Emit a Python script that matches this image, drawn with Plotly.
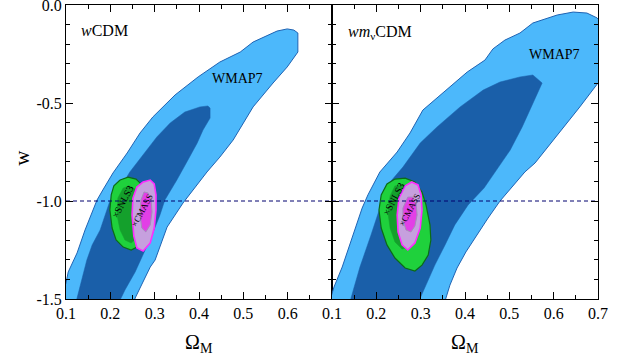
import plotly.graph_objects as go

# ---- confidence contours in the (Omega_M, w) plane: lists of (Omega_M, w) vertices ----
# wCDM panel
WCDM_WMAP7_95 = [
    (0.080, -1.550), (0.100, -1.418), (0.105, -1.362), (0.125, -1.265), (0.143, -1.148),
    (0.161, -1.046), (0.170, -0.995), (0.183, -0.944), (0.206, -0.857), (0.238, -0.755),
    (0.267, -0.653), (0.296, -0.571), (0.335, -0.485), (0.346, -0.459), (0.398, -0.367),
    (0.447, -0.291), (0.493, -0.240), (0.522, -0.189), (0.576, -0.133), (0.599, -0.122),
    (0.614, -0.128), (0.623, -0.143), (0.623, -0.240), (0.599, -0.316), (0.567, -0.398),
    (0.522, -0.520), (0.477, -0.689), (0.447, -0.776), (0.418, -0.852), (0.387, -0.944),
    (0.364, -1.010), (0.328, -1.133), (0.301, -1.301), (0.290, -1.337), (0.256, -1.495),
    (0.250, -1.550),
]
WCDM_WMAP7_68 = [
    (0.118, -1.556), (0.125, -1.495), (0.134, -1.403), (0.147, -1.301), (0.159, -1.224),
    (0.177, -1.148), (0.199, -1.000), (0.222, -0.934), (0.244, -0.852), (0.278, -0.755),
    (0.305, -0.673), (0.335, -0.602), (0.368, -0.546), (0.402, -0.520), (0.420, -0.515),
    (0.425, -0.526), (0.425, -0.577), (0.409, -0.638), (0.396, -0.704), (0.375, -0.791),
    (0.350, -0.893), (0.323, -0.995), (0.312, -1.071), (0.294, -1.173), (0.274, -1.276),
    (0.256, -1.362), (0.233, -1.454), (0.222, -1.505), (0.215, -1.556),
]
WCDM_SNLS3_95 = [
    (0.222, -0.893), (0.240, -0.878), (0.258, -0.888), (0.269, -0.913), (0.274, -0.969),
    (0.274, -1.071), (0.269, -1.173), (0.260, -1.235), (0.247, -1.250), (0.229, -1.235),
    (0.213, -1.199), (0.204, -1.138), (0.199, -1.046), (0.202, -0.969), (0.208, -0.923),
]
WCDM_SNLS3_68 = [
    (0.229, -0.934), (0.244, -0.923), (0.260, -0.944), (0.267, -1.020), (0.267, -1.122),
    (0.260, -1.189), (0.247, -1.214), (0.233, -1.199), (0.222, -1.148), (0.215, -1.071),
    (0.217, -0.985),
]
WCDM_CMASS_95 = [
    (0.274, -0.903), (0.290, -0.893), (0.299, -0.913), (0.303, -0.969), (0.303, -1.046),
    (0.299, -1.138), (0.290, -1.214), (0.274, -1.255), (0.260, -1.240), (0.253, -1.179),
    (0.249, -1.071), (0.251, -0.985), (0.260, -0.929),
]
WCDM_CMASS_68 = [
    (0.276, -0.954), (0.285, -0.959), (0.292, -0.995), (0.294, -1.056), (0.290, -1.122),
    (0.280, -1.158), (0.271, -1.138), (0.267, -1.071), (0.269, -0.995),
]

# wm_nu CDM panel
WMNU_WMAP7_95 = [
    (0.090, -1.550), (0.1045, -1.439), (0.123, -1.337), (0.147, -1.173), (0.168, -1.036),
    (0.181, -0.969), (0.208, -0.852), (0.247, -0.750), (0.276, -0.653), (0.305, -0.536),
    (0.344, -0.459), (0.382, -0.388), (0.405, -0.342), (0.445, -0.281), (0.463, -0.224),
    (0.490, -0.179), (0.524, -0.143), (0.553, -0.092), (0.608, -0.051), (0.644, -0.036),
    (0.675, -0.041), (0.698, -0.066), (0.718, -0.117), (0.718, -0.357), (0.700, -0.398),
    (0.659, -0.520), (0.630, -0.602), (0.599, -0.689), (0.558, -0.806), (0.535, -0.852),
    (0.506, -0.929), (0.479, -1.000), (0.452, -1.087), (0.427, -1.173), (0.402, -1.260),
    (0.382, -1.342), (0.366, -1.429), (0.357, -1.495), (0.350, -1.550),
]
WMNU_WMAP7_68 = [
    (0.138, -1.550), (0.143, -1.495), (0.150, -1.439), (0.163, -1.337), (0.188, -1.173),
    (0.208, -1.036), (0.222, -0.969), (0.235, -0.893), (0.260, -0.827), (0.299, -0.704),
    (0.337, -0.622), (0.389, -0.520), (0.441, -0.434), (0.479, -0.393), (0.524, -0.367),
    (0.553, -0.357), (0.574, -0.398), (0.551, -0.510), (0.529, -0.622), (0.502, -0.740),
    (0.472, -0.842), (0.443, -0.934), (0.407, -1.020), (0.377, -1.122), (0.355, -1.224),
    (0.332, -1.327), (0.312, -1.429), (0.299, -1.495), (0.292, -1.550),
]
WMNU_SNLS3_95 = [
    (0.242, -0.888), (0.265, -0.883), (0.287, -0.903), (0.303, -0.954), (0.312, -1.020),
    (0.321, -1.122), (0.323, -1.199), (0.317, -1.276), (0.303, -1.327), (0.287, -1.357),
    (0.265, -1.342), (0.242, -1.291), (0.224, -1.224), (0.211, -1.138), (0.206, -1.046),
    (0.211, -0.969), (0.224, -0.913),
]
WMNU_SNLS3_68 = [
    (0.242, -0.923), (0.265, -0.918), (0.283, -0.944), (0.294, -1.020), (0.296, -1.107),
    (0.290, -1.189), (0.276, -1.235), (0.258, -1.245), (0.242, -1.209), (0.231, -1.138),
    (0.226, -1.056), (0.231, -0.974),
]
WMNU_CMASS_95 = [
    (0.265, -0.923), (0.280, -0.903), (0.294, -0.918), (0.301, -0.969), (0.303, -1.046),
    (0.299, -1.138), (0.287, -1.214), (0.271, -1.250), (0.258, -1.224), (0.249, -1.158),
    (0.247, -1.071), (0.251, -0.985),
]
WMNU_CMASS_68 = [
    (0.271, -0.980), (0.283, -0.980), (0.290, -1.020), (0.292, -1.071), (0.287, -1.128),
    (0.278, -1.158), (0.267, -1.148), (0.260, -1.097), (0.260, -1.036),
]

W_LAMBDA = -1.0          # cosmological-constant reference line
OM_RANGE = [0.1, 0.7]
W_RANGE = [-1.5, 0.0]
X_TICKS_LEFT = [0.1, 0.2, 0.3, 0.4, 0.5, 0.6]
X_TICKS_RIGHT = [0.1, 0.2, 0.3, 0.4, 0.5, 0.6, 0.7]
Y_TICKS = [0.0, -0.5, -1.0, -1.5]
Y_TICK_TEXT = ["0.0", "-0.5", "-1.0", "-1.5"]

SERIF = "Liberation Serif, Times New Roman, serif"

# fill / edge colours per data set
STYLE = {
    "wmap95": dict(fill="#4cb8fb", line="#1f63b3", width=1.0),
    "wmap68": dict(fill="#1a5fa9", line="#1a5fa9", width=0.5),
    "snls95": dict(fill="#1fd13c", line="#0c6b16", width=1.2),
    "snls68": dict(fill="#14a02c", line="#14a02c", width=0.5),
    "cmass95": dict(fill="#c6a0de", line="#ff2cff", width=1.6),
    "cmass68": dict(fill="#e23fe6", line="#a58cba", width=1.0),
}

panels = [
    ("x", "y", [
        (WCDM_WMAP7_95, "wmap95"), (WCDM_WMAP7_68, "wmap68"),
        (WCDM_SNLS3_95, "snls95"), (WCDM_SNLS3_68, "snls68"),
        (WCDM_CMASS_95, "cmass95"), (WCDM_CMASS_68, "cmass68"),
    ]),
    ("x2", "y2", [
        (WMNU_WMAP7_95, "wmap95"), (WMNU_WMAP7_68, "wmap68"),
        (WMNU_SNLS3_95, "snls95"), (WMNU_SNLS3_68, "snls68"),
        (WMNU_CMASS_95, "cmass95"), (WMNU_CMASS_68, "cmass68"),
    ]),
]

fig = go.Figure()
for xa, ya, contours in panels:
    for pts, key in contours:
        st = STYLE[key]
        fig.add_trace(go.Scatter(
            x=[p[0] for p in pts] + [pts[0][0]],
            y=[p[1] for p in pts] + [pts[0][1]],
            mode="lines", fill="toself", fillcolor=st["fill"],
            line=dict(color=st["line"], width=st["width"]),
            xaxis=xa, yaxis=ya, hoverinfo="skip", showlegend=False,
        ))
    # w = -1 reference line
    fig.add_trace(go.Scatter(
        x=OM_RANGE, y=[W_LAMBDA, W_LAMBDA], mode="lines",
        line=dict(color="#00006e", width=1, dash="4px,3px"),
        xaxis=xa, yaxis=ya, hoverinfo="skip", showlegend=False,
    ))

axis_common = dict(
    showline=True, linecolor="black", linewidth=1, mirror="ticks",
    ticks="inside", ticklen=7, tickwidth=1, tickcolor="black",
    showgrid=False, zeroline=False, ticklabeloverflow="allow", automargin=False,
    tickfont=dict(family=SERIF, size=16, color="black"),
)
x_minor = dict(ticks="inside", ticklen=4, tickcolor="black",
               tickmode="linear", tick0=0.05, dtick=0.1)
y_minor = dict(ticks="inside", ticklen=4, tickcolor="black",
               tickmode="linear", tick0=0.0, dtick=0.1)

fig.update_layout(
    width=621, height=362,
    margin=dict(l=66, r=23, t=5, b=63, autoexpand=False),
    paper_bgcolor="white", plot_bgcolor="white",
    xaxis=dict(domain=[0, 0.5], range=OM_RANGE, tickmode="array",
               tickvals=X_TICKS_LEFT, ticktext=["%.1f" % v for v in X_TICKS_LEFT],
               minor=x_minor, anchor="y", **axis_common),
    xaxis2=dict(domain=[0.5, 1], range=OM_RANGE, tickmode="array",
                tickvals=X_TICKS_RIGHT, ticktext=["%.1f" % v for v in X_TICKS_RIGHT],
                minor=x_minor, anchor="y2", **axis_common),
    yaxis=dict(domain=[0, 1], range=W_RANGE, tickmode="array",
               tickvals=Y_TICKS, ticktext=Y_TICK_TEXT,
               minor=y_minor, anchor="x", **axis_common),
    yaxis2=dict(domain=[0, 1], range=W_RANGE, tickmode="array",
                tickvals=Y_TICKS, showticklabels=False, matches="y",
                minor=y_minor, anchor="x2", **axis_common),
)

ann = []
# axis titles
ann.append(dict(text="w", xref="paper", yref="paper", x=-0.083, y=0.48,
                xanchor="center", yanchor="middle",
                textangle=-90, showarrow=False,
                font=dict(family=SERIF, size=21, color="black")))
for xc in (0.25, 0.75):
    ann.append(dict(text="Ω<sub>M</sub>", xref="paper", yref="paper", x=xc, y=-0.15,
                    xanchor="center", yanchor="middle", showarrow=False,
                    font=dict(family=SERIF, size=20, color="black")))
# panel titles
ann.append(dict(text="<i>w</i>CDM", xref="paper", yref="paper", x=0.024, y=0.912,
                xanchor="left", yanchor="middle", showarrow=False,
                font=dict(family=SERIF, size=16, color="black")))
ann.append(dict(text="<i>wm</i><sub>ν</sub>CDM", xref="paper", yref="paper", x=0.526, y=0.905,
                xanchor="left", yanchor="middle", showarrow=False,
                font=dict(family=SERIF, size=16, color="black")))
# data-set labels
for xa, ya, xy in (("x", "y", (0.486, -0.374)), ("x2", "y2", (0.602, -0.255))):
    ann.append(dict(text="WMAP7", xref=xa, yref=ya, x=xy[0], y=xy[1], showarrow=False,
                    font=dict(family=SERIF, size=14, color="black")))
for xa, ya, s_xy, c_xy in (("x", "y", (0.228, -1.003), (0.272, -1.046)),
                           ("x2", "y2", (0.238, -0.991), (0.275, -1.046))):
    ann.append(dict(text="×SNLS3", xref=xa, yref=ya, x=s_xy[0], y=s_xy[1], textangle=-62,
                    showarrow=False, font=dict(family=SERIF, size=10, color="black")))
    ann.append(dict(text="×CMASS", xref=xa, yref=ya, x=c_xy[0], y=c_xy[1], textangle=-62,
                    showarrow=False, font=dict(family=SERIF, size=9, color="black")))

fig.update_layout(annotations=ann)
fig.write_html("out.html")
